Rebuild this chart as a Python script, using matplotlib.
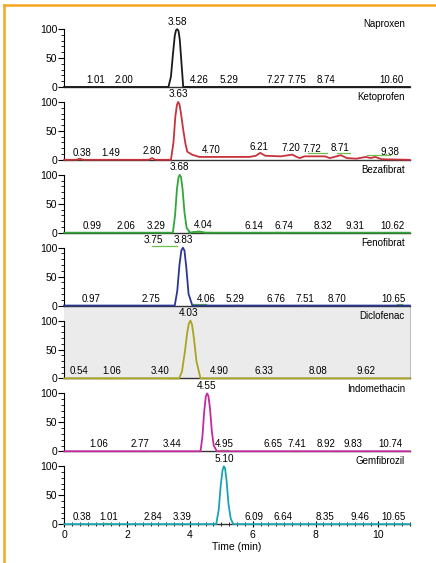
import numpy as np
import matplotlib.pyplot as plt
from matplotlib.lines import Line2D
from matplotlib.ticker import MultipleLocator

plt.rcParams['font.family'] = ['Liberation Sans', 'DejaVu Sans']

compounds = ['Naproxen', 'Ketoprofen', 'Bezafibrat', 'Fenofibrat',
             'Diclofenac', 'Indomethacin', 'Gemfibrozil']
colors = ['#1a1a1a', '#c8323c', '#33a63a', '#2b3794', '#a9a51f', '#c22a9e', '#1aa3b3']

# traced chromatograms: time (min) / relative abundance (%)
naproxen_t = [0, 3.32, 3.40, 3.46, 3.52, 3.56, 3.60, 3.64, 3.68, 3.73, 3.79, 11]
naproxen_y = [0, 0, 18, 55, 88, 98, 100, 97, 82, 45, 0, 0]
ketoprofen_t = [0, 0.4, 0.5, 0.6, 2.7, 2.8, 2.9, 3.40, 3.48, 3.54, 3.59, 3.63, 3.67, 3.72,
                3.79, 3.86, 3.92, 4.07, 4.3, 5.9, 6.1, 6.24, 6.4, 6.9, 7.26, 7.4, 7.5, 7.65,
                8.3, 8.45, 8.6, 8.8, 9.0, 9.3, 9.6, 9.75, 9.9, 10.1, 11]
ketoprofen_y = [0, 0, 2, 0, 0, 3, 0, 0, 30, 75, 95, 100, 96, 80,
                52, 28, 14, 9, 5, 5, 7, 12, 7, 6, 9, 5, 3, 6,
                6, 3, 5, 8, 3, 2, 5, 3, 5, 1, 0]
bezafibrat_t = [0, 3.46, 3.53, 3.59, 3.64, 3.68, 3.72, 3.77, 3.83, 3.90, 4.01, 4.1, 4.3, 4.5, 11]
bezafibrat_y = [0, 0, 30, 75, 96, 100, 96, 75, 35, 8, 0, 1, 2, 0, 0]
fenofibrat_t = [0, 3.52, 3.60, 3.67, 3.73, 3.78, 3.83, 3.89, 3.96, 4.08, 11]
fenofibrat_y = [0, 0, 25, 70, 95, 100, 95, 65, 20, 0, 0]
diclofenac_t = [0, 3.66, 3.75, 3.84, 3.92, 3.97, 4.02, 4.07, 4.13, 4.21, 4.34, 11]
diclofenac_y = [0, 0, 12, 45, 80, 95, 100, 93, 70, 30, 0, 0]
indomethacin_t = [0, 4.34, 4.40, 4.46, 4.51, 4.55, 4.59, 4.64, 4.70, 4.76, 4.86, 11]
indomethacin_y = [0, 0, 25, 70, 95, 100, 96, 75, 35, 10, 0, 0]
gemfibrozil_t = [0, 4.84, 4.92, 4.98, 5.04, 5.08, 5.12, 5.17, 5.23, 5.30, 5.38, 11]
gemfibrozil_y = [0, 0, 25, 65, 93, 100, 97, 75, 35, 10, 0, 0]

traces_t = [naproxen_t, ketoprofen_t, bezafibrat_t, fenofibrat_t,
            diclofenac_t, indomethacin_t, gemfibrozil_t]
traces_y = [naproxen_y, ketoprofen_y, bezafibrat_y, fenofibrat_y,
            diclofenac_y, indomethacin_y, gemfibrozil_y]

# apex labels and where they sit (min)
apex_labels = [['3.58'], ['3.63'], ['3.68'], ['3.75', '3.83'], ['4.03'], ['4.55'], ['5.10']]
apex_at = [[3.60], [3.63], [3.66], [2.83, 3.79], [3.95], [4.52], [5.09]]

# small peak labels
peak_labels = [
    ['1.01', '2.00', '4.26', '5.29', '7.27', '7.75', '8.74', '10.60'],
    ['0.38', '1.49', '2.80', '4.70', '6.21', '7.20', '7.72', '8.71', '9.38'],
    ['0.99', '2.06', '3.29', '4.04', '6.14', '6.74', '8.32', '9.31', '10.62'],
    ['0.97', '2.75', '4.06', '5.29', '6.76', '7.51', '8.70', '10.65'],
    ['0.54', '1.06', '3.40', '4.90', '6.33', '8.08', '9.62'],
    ['1.06', '2.77', '3.44', '4.95', '6.65', '7.41', '8.92', '9.83', '10.74'],
    ['0.38', '1.01', '2.84', '3.39', '6.09', '6.64', '8.35', '9.46', '10.65'],
]
peak_at = [
    [1.02, 1.91, 4.30, 5.26, 6.73, 7.41, 8.34, 10.41],
    [0.57, 1.50, 2.81, 4.68, 6.19, 7.20, 7.87, 8.79, 10.37],
    [0.88, 1.97, 2.93, 4.43, 6.05, 7.01, 8.25, 9.24, 10.44],
    [0.86, 2.77, 4.52, 5.45, 6.74, 7.67, 8.68, 10.49],
    [0.48, 1.52, 3.06, 4.94, 6.35, 8.08, 9.62],
    [1.09, 2.42, 3.44, 5.10, 6.65, 7.42, 8.34, 9.20, 10.38],
    [0.57, 1.43, 2.82, 3.74, 6.05, 6.97, 8.31, 9.40, 10.48],
]

# integration baselines (start, end, level)
baselines = [
    [(7.0, 7.2, 1.5)],
    [(0.35, 0.6, 2), (7.77, 8.37, 12), (8.69, 9.1, 12), (9.65, 10.38, 9)],
    [(3.95, 4.65, 2), (6.7, 6.9, 2)],
    [(2.8, 3.6, 103), (4.1, 4.5, 3), (5.4, 5.6, 1), (7.5, 7.65, 1), (10.6, 10.75, 2)],
    [(1.3, 1.6, 1), (3.3, 3.6, 1)],
    [(2.4, 2.6, 1), (4.95, 5.2, 2), (7.3, 7.45, 1), (8.6, 8.8, 1), (9.5, 9.7, 1), (10.5, 10.7, 1)],
    [(0.5, 0.7, 1), (1.2, 1.5, 1.5), (3.5, 3.7, 1), (6.8, 7.0, 1), (10.6, 10.7, 1)],
]

fig, axes = plt.subplots(7, 1, sharex=True, figsize=(4.36, 5.63), dpi=100,
                         gridspec_kw={'hspace': 0})
fig.subplots_adjust(left=0.147, right=0.940, bottom=0.069, top=0.975)

for i, ax in enumerate(axes):
    t, y = traces_t[i], traces_y[i]
    ax.plot(t, y, color=colors[i], lw=1.3, clip_on=False, zorder=3)
    for x0, x1, lvl in baselines[i]:
        ax.plot([x0, x1], [lvl, lvl], color='#6cc24a', lw=0.9, zorder=2.8, clip_on=False)

    for lab, x in zip(apex_labels[i], apex_at[i]):
        ax.text(x, 113, lab, ha='center', va='center', fontsize=7.2)
    for lab, x in zip(peak_labels[i], peak_at[i]):
        ax.text(x, np.interp(x, t, y) + 12, lab, ha='center', va='center', fontsize=7)

    ax.text(0.986, 0.86, compounds[i], transform=ax.transAxes, ha='right', va='center',
            fontsize=7)

    ax.set_xlim(0, 11)
    ax.set_ylim(0, 126)
    ax.set_facecolor('none')
    ax.spines[['top', 'right']].set_visible(False)
    ax.spines['left'].set_bounds(0, 100)
    ax.spines['left'].set_linewidth(0.8)
    ax.spines['bottom'].set_linewidth(1.0)
    ax.spines['bottom'].set_color('#333333')
    ax.set_yticks([0, 50, 100])
    ax.set_yticks(list(range(10, 100, 10)), minor=True)
    ax.tick_params(axis='y', which='major', length=4, width=0.8, labelsize=7.5, pad=1)
    ax.tick_params(axis='y', which='minor', length=2.5, width=0.6)
    if i < 6:
        ax.tick_params(axis='x', which='both', bottom=False)

# diclofenac panel is shaded
axes[4].set_facecolor('#ebebeb')
axes[4].set_zorder(-1)
axes[4].spines['right'].set_visible(True)
axes[4].spines['right'].set_color('#c0c0c0')
axes[4].spines['right'].set_linewidth(0.8)

bottom = axes[-1]
bottom.set_xticks(range(0, 11, 2))
bottom.xaxis.set_minor_locator(MultipleLocator(0.25))
bottom.tick_params(axis='x', which='major', direction='inout', length=5, width=0.8,
                   labelsize=7.5, pad=2)
bottom.tick_params(axis='x', which='minor', direction='inout', length=3, width=0.6)
bottom.set_xlabel('Time (min)', fontsize=7.5, labelpad=1)

# orange frame
orange = '#f5a623'
fig.add_artist(Line2D([0.009, 0.009], [0, 0.991], color=orange, lw=1.8,
                      transform=fig.transFigure))
fig.add_artist(Line2D([0.009, 1], [0.991, 0.991], color=orange, lw=1.8,
                      transform=fig.transFigure))

fig.savefig('out.png', dpi=100)
